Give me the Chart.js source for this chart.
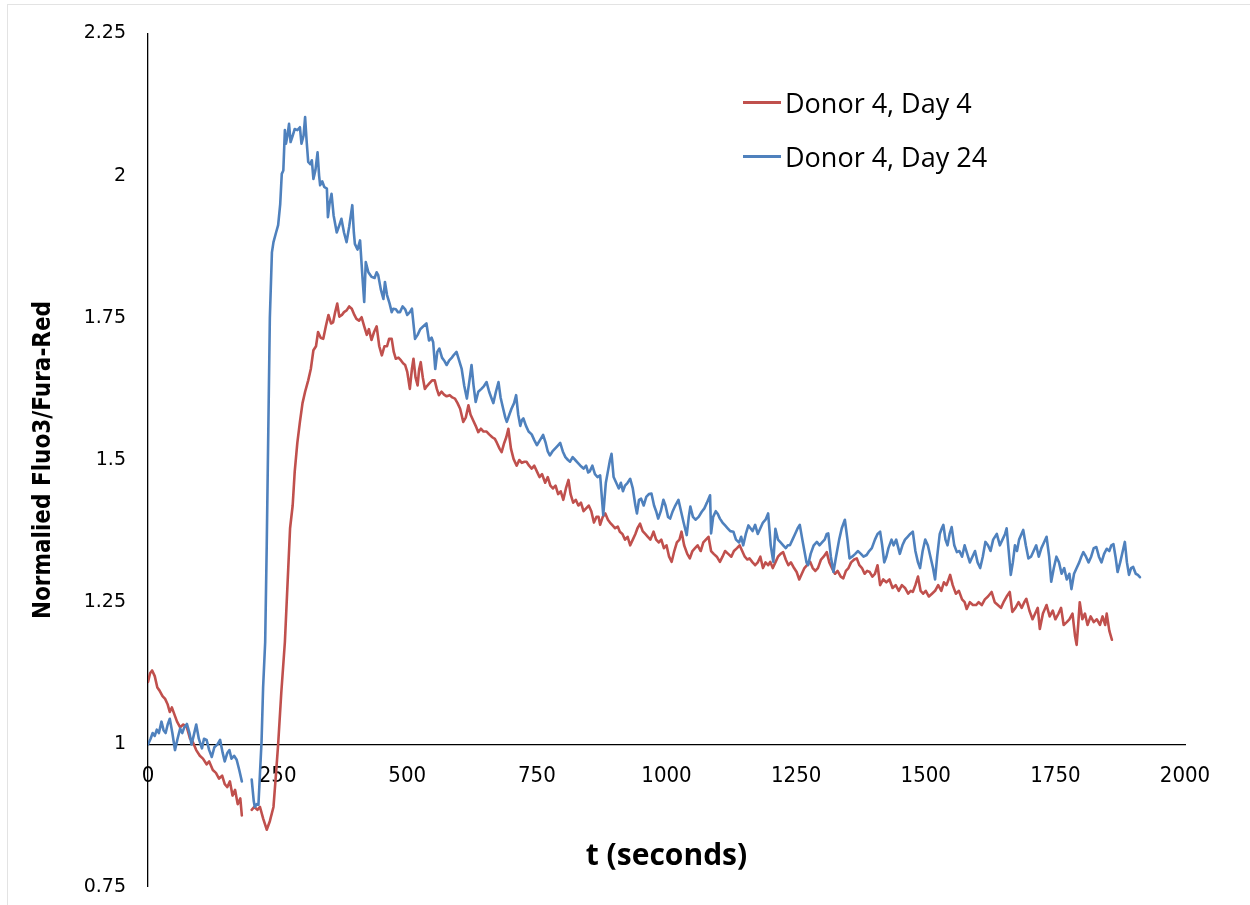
<!DOCTYPE html>
<html lang="en">
<head>
  <meta charset="UTF-8">
  <title>Normalised Fluo3/Fura-Red</title>
  <script src="https://cdn.jsdelivr.net/npm/chart.js"></script>
  <style>
    body { margin: 0; background: #fff; }
    #wrap { position: relative; width: 1250px; height: 905px; overflow: hidden; }
    #frame { position: absolute; left: 7px; top: 4px; width: 1400px; height: 1000px; border: 1px solid #e3e3e3; }
    canvas { position: absolute; left: 0; top: 0; }
    #legend { position: absolute; left: 743px; top: 75px; font-family: 'Open Sans', sans-serif; font-size: 27px; color: #000; }
    .item { display: flex; align-items: center; height: 54px; }
    .swatch { width: 38px; height: 3px; margin-right: 4px; }
  </style>
</head>
<body>
  <div id="wrap">
    <div id="frame"></div>
    <!-- canvas runs a little past the bottom of the page: the layout keeps ~35px under the plot -->
    <canvas id="chart" width="1250" height="920"></canvas>
    <div id="legend"></div>
  </div>

  <script>
    // values: [time (s), ratio]; null = gap in the recording
    const day4 = [
      [0,1.11],[4,1.125],[8,1.13],[13,1.12],[18,1.10],[22,1.095],[28,1.085],[33,1.08],[38,1.07],[42,1.057],[46,1.065],[50,1.055],[56,1.04],[62,1.03],[68,1.035],[75,1.03],[81,1.01],[86,1.005],[93,0.99],[100,0.98],[106,0.975],[113,0.965],[118,0.97],[125,0.955],[131,0.95],[137,0.94],[143,0.945],[148,0.93],[153,0.925],[158,0.935],[163,0.91],[168,0.92],[173,0.895],[178,0.905],[181,0.875],
      [190,null],
      [200,0.885],[205,0.89],[211,0.885],[216,0.89],[222,0.87],[229,0.85],[235,0.865],[242,0.89],[247,0.95],[251,1.0],[257,1.09],[264,1.18],[269,1.28],[274,1.38],[279,1.42],[283,1.48],[288,1.53],[293,1.567],[298,1.60],[303,1.62],[309,1.64],[314,1.66],[319,1.693],[324,1.70],[328,1.725],[333,1.715],[338,1.713],[343,1.735],[348,1.755],[353,1.74],[357,1.742],[361,1.76],[365,1.775],[369,1.752],[374,1.755],[378,1.76],[383,1.763],[388,1.77],[393,1.766],[398,1.755],[402,1.748],[407,1.745],[412,1.751],[417,1.735],[422,1.72],[426,1.73],[431,1.711],[436,1.725],[441,1.735],[446,1.70],[451,1.684],[456,1.70],[461,1.70],[465,1.713],[470,1.713],[474,1.69],[478,1.678],[483,1.68],[488,1.675],[492,1.67],[496,1.667],[500,1.655],[505,1.625],[509,1.66],[512,1.678],[516,1.645],[520,1.631],[523,1.66],[526,1.672],[530,1.645],[534,1.625],[538,1.63],[543,1.635],[548,1.64],[553,1.64],[557,1.625],[561,1.614],[566,1.62],[571,1.615],[576,1.612],[582,1.614],[587,1.61],[592,1.608],[597,1.60],[602,1.59],[608,1.567],[613,1.575],[618,1.596],[622,1.58],[627,1.57],[632,1.56],[637,1.549],[642,1.555],[647,1.55],[653,1.55],[658,1.545],[664,1.54],[669,1.537],[673,1.53],[678,1.52],[682,1.514],[687,1.53],[691,1.54],[695,1.555],[700,1.52],[705,1.502],[711,1.49],[716,1.50],[721,1.495],[726,1.497],[730,1.497],[735,1.49],[740,1.485],[745,1.49],[750,1.48],
      [755,1.47],[760,1.475],[766,1.46],[771,1.47],[776,1.455],[781,1.45],[786,1.455],[791,1.44],[796,1.445],[801,1.43],[806,1.45],[811,1.465],[815,1.44],[820,1.425],[825,1.43],[830,1.42],[835,1.425],[840,1.41],[845,1.415],[850,1.42],[855,1.41],[860,1.39],[865,1.40],[869,1.40],[872,1.386],[877,1.40],[882,1.406],[887,1.395],[891,1.39],[896,1.385],[901,1.38],[906,1.383],[910,1.374],[915,1.37],[920,1.36],[925,1.365],[930,1.35],[935,1.36],[940,1.37],[944,1.38],[949,1.388],[954,1.375],[959,1.37],[964,1.365],[969,1.36],[975,1.374],[980,1.36],[985,1.355],[990,1.36],[995,1.345],[1000,1.35],
      [1005,1.33],[1010,1.321],[1015,1.34],[1020,1.355],[1025,1.36],[1029,1.374],[1034,1.35],[1040,1.335],[1045,1.327],[1050,1.34],[1055,1.345],[1060,1.35],[1066,1.34],[1071,1.355],[1076,1.36],[1081,1.365],[1086,1.34],[1091,1.335],[1097,1.33],[1103,1.321],[1108,1.33],[1113,1.34],[1119,1.335],[1125,1.33],[1130,1.34],[1136,1.345],[1141,1.35],[1146,1.34],[1151,1.33],[1156,1.325],[1160,1.327],[1166,1.32],[1171,1.315],[1176,1.32],[1181,1.33],[1186,1.31],[1191,1.32],[1196,1.315],[1200,1.321],[1205,1.31],[1210,1.32],[1215,1.33],[1220,1.335],[1225,1.338],[1230,1.325],[1235,1.315],[1240,1.32],[1246,1.31],[1251,1.303],[1256,1.29],[1261,1.30],[1266,1.31],[1271,1.315],[1277,1.321],[1282,1.31],[1287,1.305],[1292,1.31],[1298,1.325],[1303,1.33],[1309,1.338],[1314,1.32],[1319,1.31],[1325,1.30],[1330,1.305],[1336,1.295],[1341,1.292],[1346,1.305],[1351,1.31],[1356,1.32],[1362,1.325],[1367,1.327],[1372,1.315],[1377,1.31],[1382,1.30],[1387,1.305],[1392,1.303],[1397,1.295],[1402,1.30],[1407,1.315],[1412,1.28],[1418,1.29],[1424,1.285],[1430,1.29],[1436,1.275],[1442,1.28],[1448,1.27],[1454,1.28],[1460,1.275],[1466,1.265],[1471,1.27],[1475,1.268],[1480,1.28],[1485,1.295],[1490,1.27],[1495,1.265],[1500,1.27],
      [1506,1.26],[1512,1.265],[1518,1.27],[1524,1.28],[1530,1.27],[1535,1.285],[1540,1.28],[1544,1.29],[1547,1.298],[1552,1.28],[1558,1.265],[1564,1.27],[1570,1.255],[1575,1.25],[1579,1.238],[1585,1.25],[1591,1.245],[1597,1.245],[1602,1.25],[1608,1.245],[1614,1.255],[1620,1.26],[1627,1.268],[1633,1.25],[1639,1.245],[1645,1.24],[1650,1.25],[1656,1.26],[1662,1.268],[1667,1.233],[1673,1.24],[1679,1.25],[1685,1.24],[1690,1.25],[1694,1.256],[1700,1.235],[1706,1.22],[1711,1.23],[1716,1.24],[1720,1.203],[1726,1.23],[1733,1.245],[1739,1.225],[1745,1.235],[1750,1.22],[1756,1.23],[1761,1.24],[1766,1.21],[1772,1.215],[1777,1.22],[1783,1.23],[1788,1.19],[1791,1.175],[1794,1.21],[1797,1.25],[1802,1.22],[1807,1.23],[1812,1.21],[1818,1.225],[1824,1.215],[1830,1.22],[1836,1.21],[1841,1.225],[1846,1.21],[1849,1.23],[1854,1.2],[1859,1.184]
    ];

    const day24 = [
      [0,1.0],[5,1.01],[9,1.02],[13,1.015],[17,1.026],[21,1.02],[26,1.04],[30,1.025],[34,1.02],[38,1.035],[42,1.045],[47,1.02],[52,0.99],[57,1.01],[62,1.028],[66,1.02],[70,1.03],[75,1.036],[80,1.02],[84,1.0],[88,1.015],[93,1.035],[98,1.01],[104,0.993],[108,1.01],[113,1.008],[118,0.99],[123,0.978],[128,0.995],[134,1.0],[139,1.008],[144,0.985],[148,0.97],[153,0.985],[157,0.99],[161,0.975],[166,0.98],[171,0.973],[176,0.955],[181,0.935],
      [190,null],
      [200,0.938],[204,0.90],[206,0.89],[210,0.895],[213,0.894],[216,0.95],[219,1.005],[222,1.10],[226,1.18],[229,1.35],[232,1.55],[235,1.75],[239,1.865],[242,1.883],[247,1.90],[251,1.913],[255,1.95],[258,2.003],[261,2.009],[264,2.08],[266,2.056],[269,2.07],[272,2.091],[275,2.059],[279,2.07],[283,2.082],[288,2.08],[293,2.085],[296,2.056],[300,2.07],[303,2.103],[306,2.06],[309,2.024],[313,2.02],[316,2.027],[319,1.994],[323,2.01],[327,2.041],[330,2.0],[332,1.983],[336,1.99],[340,1.98],[345,1.977],[347,1.927],[350,1.95],[354,1.968],[358,1.93],[364,1.90],[368,1.91],[373,1.924],[378,1.90],[383,1.883],[388,1.91],[394,1.948],[397,1.90],[399,1.88],[404,1.87],[409,1.886],[413,1.83],[417,1.778],[420,1.848],[425,1.83],[431,1.822],[437,1.82],[441,1.83],[444,1.825],[449,1.80],[454,1.783],[457,1.813],[461,1.79],[466,1.775],[470,1.76],[473,1.766],[478,1.765],[482,1.76],[486,1.76],[491,1.77],[496,1.765],[500,1.755],
      [505,1.76],[509,1.766],[515,1.713],[520,1.72],[525,1.73],[531,1.735],[537,1.74],[542,1.71],[547,1.715],[550,1.707],[554,1.66],[558,1.69],[562,1.696],[567,1.68],[571,1.675],[576,1.667],[581,1.675],[586,1.68],[590,1.685],[595,1.69],[600,1.675],[605,1.66],[610,1.63],[615,1.608],[620,1.64],[624,1.667],[628,1.63],[632,1.602],[637,1.62],[643,1.625],[648,1.63],[653,1.637],[658,1.62],[662,1.61],[666,1.60],[671,1.62],[676,1.637],[680,1.61],[685,1.59],[689,1.575],[692,1.567],[697,1.58],[701,1.59],[706,1.60],[710,1.614],[714,1.58],[718,1.56],[721,1.57],[724,1.573],[729,1.56],[734,1.55],[740,1.545],[745,1.535],[750,1.526],[756,1.535],[762,1.544],[767,1.53],[771,1.515],[775,1.508],[780,1.515],[785,1.52],[790,1.525],[795,1.53],[800,1.515],[805,1.505],[810,1.50],[814,1.497],[819,1.505],[824,1.50],[829,1.495],[834,1.49],[840,1.485],[845,1.49],[849,1.478],[852,1.48],[857,1.49],[862,1.475],[867,1.47],[872,1.473],[878,1.403],[883,1.46],[887,1.48],[891,1.50],[894,1.511],[898,1.47],[903,1.46],[908,1.45],[912,1.46],[916,1.445],[920,1.455],[925,1.46],[930,1.467],[935,1.45],[940,1.42],[943,1.406],[947,1.43],[951,1.432],[956,1.42],[961,1.435],[966,1.44],[971,1.441],[976,1.42],[980,1.41],[984,1.397],[989,1.41],[994,1.43],[998,1.42],
      [1003,1.40],[1007,1.397],[1012,1.41],[1017,1.42],[1023,1.43],[1028,1.41],[1033,1.39],[1039,1.368],[1043,1.40],[1046,1.418],[1051,1.40],[1056,1.395],[1062,1.40],[1068,1.409],[1073,1.415],[1078,1.425],[1084,1.438],[1086,1.371],[1090,1.40],[1095,1.41],[1099,1.405],[1103,1.397],[1108,1.39],[1113,1.385],[1118,1.38],[1123,1.375],[1129,1.374],[1134,1.36],[1140,1.355],[1144,1.365],[1148,1.35],[1153,1.37],[1158,1.385],[1162,1.38],[1166,1.375],[1171,1.386],[1176,1.37],[1181,1.38],[1186,1.39],[1191,1.395],[1196,1.406],[1201,1.35],[1206,1.321],[1210,1.379],[1215,1.36],[1220,1.355],[1225,1.35],[1230,1.345],[1234,1.35],[1238,1.35],[1243,1.36],[1248,1.37],[1253,1.38],[1257,1.386],[1262,1.36],[1266,1.34],[1270,1.32],[1273,1.315],[1278,1.335],[1284,1.35],[1290,1.356],[1295,1.35],[1300,1.355],[1305,1.36],[1309,1.37],[1312,1.371],[1317,1.33],[1322,1.303],[1327,1.33],[1333,1.36],[1338,1.38],[1344,1.395],[1349,1.36],[1353,1.327],[1358,1.33],[1364,1.335],[1369,1.34],[1375,1.335],[1380,1.33],[1386,1.333],[1391,1.34],[1396,1.345],[1402,1.36],[1407,1.37],[1412,1.374],[1416,1.35],[1420,1.32],[1424,1.33],[1428,1.345],[1434,1.36],[1438,1.35],[1443,1.36],[1450,1.335],[1455,1.35],[1460,1.36],[1465,1.365],[1470,1.37],[1475,1.374],[1480,1.34],[1485,1.32],[1489,1.31],[1494,1.34],[1499,1.36],
      [1504,1.35],[1509,1.33],[1514,1.31],[1518,1.29],[1522,1.33],[1527,1.37],[1531,1.38],[1534,1.386],[1538,1.36],[1542,1.35],[1546,1.37],[1550,1.382],[1555,1.35],[1560,1.338],[1565,1.34],[1570,1.33],[1575,1.35],[1580,1.335],[1585,1.32],[1590,1.33],[1595,1.34],[1600,1.32],[1605,1.31],[1610,1.33],[1615,1.356],[1620,1.35],[1625,1.34],[1630,1.36],[1637,1.37],[1643,1.35],[1648,1.36],[1653,1.37],[1656,1.38],[1660,1.34],[1664,1.298],[1668,1.32],[1672,1.35],[1676,1.34],[1680,1.36],[1688,1.377],[1693,1.35],[1698,1.327],[1703,1.33],[1708,1.34],[1713,1.35],[1718,1.33],[1723,1.345],[1728,1.355],[1733,1.365],[1738,1.33],[1742,1.286],[1747,1.31],[1752,1.33],[1757,1.32],[1762,1.30],[1767,1.31],[1772,1.29],[1777,1.30],[1781,1.273],[1786,1.30],[1791,1.31],[1796,1.32],[1800,1.33],[1804,1.338],[1809,1.33],[1814,1.32],[1819,1.33],[1824,1.345],[1829,1.347],[1834,1.33],[1839,1.32],[1844,1.335],[1849,1.344],[1854,1.34],[1858,1.35],[1862,1.352],[1866,1.33],[1870,1.303],[1875,1.32],[1880,1.34],[1884,1.356],[1888,1.32],[1892,1.298],[1896,1.31],[1900,1.312],[1905,1.30],[1909,1.298],[1913,1.294]
    ];

    const seriesNames = ['Donor 4, Day 4', 'Donor 4, Day 24'];
    const seriesColors = ['#C0504D', '#4F81BD'];
    const xTicks = [0, 250, 500, 750, 1000, 1250, 1500, 1750, 2000];
    const yTicks = [0.75, 1, 1.25, 1.5, 1.75, 2, 2.25];

    const toPoints = arr => arr.map(p => ({ x: p[0], y: p[1] }));

    const chart = new Chart(document.getElementById('chart').getContext('2d'), {
      type: 'line',
      data: {
        datasets: [
          { label: seriesNames[0], data: toPoints(day4), borderColor: seriesColors[0], order: 1 },
          { label: seriesNames[1], data: toPoints(day24), borderColor: seriesColors[1], order: 0 }
        ]
      },
      options: {
        responsive: false,
        animation: false,
        events: [],
        layout: { padding: { left: 0, top: 31, right: 65, bottom: 5 } },
        elements: {
          line: { borderWidth: 2.6, tension: 0, borderJoinStyle: 'round', borderCapStyle: 'round' },
          point: { radius: 0 }
        },
        spanGaps: false,
        plugins: { legend: { display: false }, tooltip: { enabled: false } },
        scales: {
          x: {
            type: 'linear',
            position: { y: 1 },
            min: xTicks[0],
            max: xTicks[xTicks.length - 1],
            afterBuildTicks: s => { s.ticks = xTicks.map(v => ({ value: v })); },
            ticks: {
              padding: 19,
              color: '#000',
              maxRotation: 0,
              font: { family: "'Liberation Sans Narrow', 'DejaVu Sans Condensed', 'Roboto', sans-serif", size: 22 },
              callback: v => String(v)
            },
            grid: { display: false, drawTicks: false },
            border: { display: true, color: '#000', width: 1.3 },
            title: {
              display: true,
              text: 't (seconds)',
              color: '#000',
              padding: { top: 30, bottom: 0 },
              font: { family: "'Open Sans', sans-serif", size: 30, weight: 'bold' }
            }
          },
          y: {
            type: 'linear',
            min: yTicks[0],
            max: yTicks[yTicks.length - 1],
            afterBuildTicks: s => { s.ticks = yTicks.map(v => ({ value: v })); },
            afterFit: s => { s.width = 148; },
            ticks: {
              padding: 22,
              color: '#000',
              font: { family: "'DejaVu Sans', sans-serif", size: 19 },
              callback: v => String(+v.toFixed(2))
            },
            grid: { display: false, drawTicks: false },
            border: { display: true, color: '#000', width: 1.3 },
            title: {
              display: true,
              text: 'Normalied Fluo3/Fura-Red',
              color: '#000',
              padding: { top: 29, bottom: 0 },
              font: { family: "'Liberation Sans Narrow', 'DejaVu Sans Condensed', 'Roboto', sans-serif", size: 24, weight: 'bold' }
            }
          }
        }
      }
    });

    // legend as real text, built from the datasets
    const legend = document.getElementById('legend');
    chart.data.datasets.forEach(ds => {
      const row = document.createElement('div');
      row.className = 'item';
      const sw = document.createElement('span');
      sw.className = 'swatch';
      sw.style.background = ds.borderColor;
      const txt = document.createElement('span');
      txt.textContent = ds.label;
      row.appendChild(sw);
      row.appendChild(txt);
      legend.appendChild(row);
    });
  </script>
</body>
</html>
